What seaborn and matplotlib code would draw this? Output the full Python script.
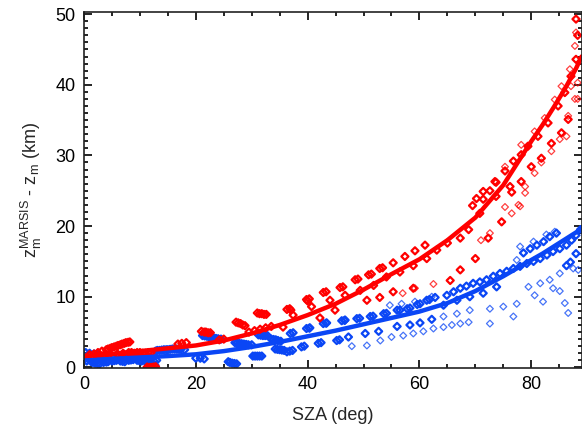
import numpy as np
import pandas as pd
import matplotlib
matplotlib.use("Agg")
import matplotlib.pyplot as plt
import seaborn as sns
from matplotlib.ticker import MultipleLocator

# %% data
red_sza = [1.0, 1.8, 2.5, 3.2, 4.0, 4.7, 5.4, 6.1, 6.8, 7.5, 8.2,
           0.5, 1.5, 2.5, 3.5, 4.5, 6.0, 7.0, 8.0, 9.0, 10.0, 11.0, 12.0,
           11.3, 12.0, 12.8, 16.8, 17.5, 18.3, 21.0, 21.8, 22.6, 24.2, 25.0,
           27.2, 28.0, 28.8, 31.0, 31.8, 32.6, 29.5, 30.5, 31.5, 32.5, 33.5,
           36.3, 39.8, 42.8, 45.8, 48.5, 50.9, 52.9, 55.3, 57.4, 59.2, 61.0,
           35.6, 37.4, 40.7, 44.0, 46.7, 49.4, 51.8, 54.1, 56.5, 58.9, 61.3, 63.1,
           42.2, 44.9, 50.6, 52.9, 55.3, 58.9,
           65.0, 67.3, 68.8, 69.5, 70.8, 71.4, 72.6, 73.7, 73.7, 76.2,
           65.5, 67.3, 70.0, 72.3, 74.7,
           70.2, 71.4, 73.5, 75.3, 76.8, 78.2, 79.4, 81.2, 83.0, 84.8, 86.0, 87.1, 88.0, 88.0, 88.3,
           76.5, 78.2, 80.0, 81.8, 83.6, 85.4, 86.6]
red_dz = [1.8, 1.9, 2.1, 2.3, 2.5, 2.7, 2.9, 3.1, 3.3, 3.5, 3.6,
          1.4, 1.5, 1.6, 1.7, 1.8, 1.9, 2.0, 2.1, 2.0, 2.1, 2.0, 2.1,
          0.05, 0.0, 0.1, 3.3, 3.4, 3.5, 5.1, 5.0, 4.9, 3.9, 4.0,
          6.4, 6.2, 5.9, 7.7, 7.6, 7.5, 5.0, 5.2, 5.4, 5.6, 5.8,
          8.2, 9.6, 10.6, 11.3, 12.4, 13.1, 14.0, 14.8, 15.7, 16.5, 17.3,
          5.7, 7.4, 8.6, 9.5, 10.2, 10.9, 11.6, 12.8, 13.5, 14.4, 15.4, 16.6,
          7.0, 8.1, 9.5, 9.9, 10.7, 11.2,
          17.6, 18.3, 19.5, 22.9, 21.8, 23.8, 25.0, 24.2, 26.2, 25.6,
          12.3, 13.8, 15.4, 18.3, 20.6,
          23.9, 24.9, 26.3, 27.8, 29.2, 30.1, 31.3, 32.7, 34.6, 37.0, 38.9, 41.2, 43.6, 49.3, 47.0,
          24.8, 26.3, 28.4, 29.6, 31.7, 33.2, 35.1]

# extra points inside the dense low-SZA clusters
red_blob_sza = [21.5, 22.2, 27.6, 28.4, 31.4, 32.2, 36.8, 37.0, 40.3, 40.0, 43.3, 46.3,
                49.0, 51.4, 53.4, 12.4, 11.7, 4.3, 5.0, 5.8, 6.5, 7.2, 7.9, 8.5, 9.5,
                10.5, 11.5]
red_blob_dz = [5.0, 4.9, 6.3, 6.0, 7.6, 7.5, 8.3, 8.1, 9.7, 9.4, 10.7, 11.4,
               12.5, 13.2, 14.1, 0.05, 0.0, 2.6, 2.8, 3.0, 3.2, 3.4, 3.55, 2.1, 2.1,
               2.0, 2.1]

red_faint_sza = [57.0, 59.2, 62.5, 71.0, 72.6, 76.5, 78.0, 78.9,
                 75.3, 78.2, 80.6, 82.4, 84.2, 85.4, 86.9, 87.8, 88.0,
                 75.3, 77.7, 78.9, 80.6, 81.8, 83.6, 85.1, 86.3, 86.6, 87.8, 88.3, 88.3, 87.1]
red_faint_dz = [10.5, 11.2, 11.8, 18.0, 19.0, 21.8, 22.8, 24.7,
                28.4, 31.5, 33.4, 35.3, 37.9, 39.8, 42.2, 45.5, 47.4,
                22.7, 23.0, 25.6, 27.5, 29.0, 30.6, 32.3, 32.7, 35.6, 38.0, 40.3, 38.0, 39.8]

blue_sza = [0.3, 1.0, 1.8, 2.5,
            0.5, 1.3, 2.0, 2.8, 3.5, 4.3, 5.0, 5.8, 6.5, 7.3, 8.0, 8.8, 9.5, 10.3, 11.0,
            11.8, 12.5, 13.0, 3.0, 4.5, 6.0, 7.5, 9.0, 10.5, 12.0, 12.7, 11.8,
            12.8, 13.5, 14.3, 15.0, 15.8, 16.6, 17.4, 18.0,
            20.0, 20.8, 21.5, 21.2, 22.0, 22.8, 23.6, 24.5, 25.8, 26.5, 27.3,
            27.0, 27.8, 28.6, 29.4, 30.0, 30.2, 31.0, 31.8, 31.2, 32.0, 32.8,
            33.5, 34.3, 35.2, 34.2, 35.0, 35.8,
            36.3, 38.9, 41.9, 45.2, 47.3, 50.3, 52.7,
            36.9, 39.8, 42.8, 46.1, 48.8, 51.2, 53.6, 56.0, 57.8, 59.6, 61.3, 62.8,
            40.4, 43.4, 46.7, 56.0, 58.3, 60.1, 62.2,
            64.9, 67.3, 69.6, 72.0, 74.4, 76.8, 79.2, 81.6, 83.9, 86.3, 88.0,
            66.1, 68.4, 70.8, 73.2, 75.6, 78.0, 80.4, 82.8, 85.1, 87.2, 88.8,
            64.3, 66.7, 69.0, 71.4, 73.8,
            78.6, 79.8, 81.0, 82.2, 83.3, 84.5, 86.3, 87.0, 88.0]
blue_dz = [2.1, 2.0, 1.9, 1.8,
           0.9, 0.8, 0.6, 0.5, 0.7, 0.8, 0.9, 1.0, 0.9, 0.8, 1.0, 1.1, 1.0, 0.9, 0.8,
           0.7, 0.9, 1.0, 1.2, 1.3, 1.4, 1.3, 1.4, 1.3, 1.3, 0.3, 0.2,
           2.3, 2.4, 2.5, 2.5, 2.6, 2.6, 2.6, 2.5,
           1.3, 1.3, 1.2, 4.5, 4.4, 4.2, 4.1, 4.0, 0.8, 0.6, 0.5,
           3.5, 3.4, 3.3, 3.2, 3.2, 1.6, 1.6, 1.6, 4.6, 4.5, 4.5,
           4.0, 3.9, 3.7, 2.6, 2.5, 2.4,
           2.2, 2.9, 3.4, 3.8, 4.3, 4.8, 5.1,
           4.8, 5.5, 6.2, 6.6, 6.9, 7.2, 7.6, 8.1, 8.3, 8.9, 9.5, 9.9,
           5.6, 6.3, 6.7, 5.8, 6.0, 6.3, 6.8,
           10.2, 11.2, 11.9, 12.4, 13.3, 14.0, 14.7, 15.4, 16.4, 17.3, 18.7,
           10.7, 11.5, 12.1, 12.9, 13.6, 14.3, 15.0, 15.9, 16.8, 18.0, 19.5,
           8.8, 9.5, 10.0, 10.5, 11.4,
           16.2, 16.8, 17.3, 17.8, 18.5, 19.0, 14.4, 14.9, 16.1]

blue_blob_sza = [1.6, 2.4, 4.0, 5.4, 6.9, 8.4, 9.9, 11.4, 3.7, 5.2, 6.8, 8.2, 9.8, 11.3,
                 13.1, 13.9, 14.7, 15.4, 16.2, 17.0, 21.6, 22.4, 23.2, 24.0, 26.1, 26.9,
                 27.4, 28.2, 29.0, 30.6, 31.4, 31.6, 32.4, 33.9, 34.7, 34.6, 35.4,
                 36.8, 37.3, 39.4, 42.4, 45.7, 37.4, 40.3, 43.3, 46.6, 49.3, 51.7,
                 54.1, 56.5, 58.3, 60.1, 61.8]
blue_blob_dz = [0.7, 0.55, 0.75, 0.95, 0.85, 1.05, 0.95, 0.75, 1.25, 1.35, 1.35, 1.35, 1.35, 1.3,
                2.4, 2.45, 2.5, 2.55, 2.6, 2.6, 4.45, 4.3, 4.15, 4.05, 0.7, 0.55,
                3.45, 3.35, 3.25, 1.6, 1.6, 4.55, 4.5, 3.95, 3.8, 2.55, 2.45,
                2.3, 2.4, 3.0, 3.5, 3.9, 4.9, 5.55, 6.25, 6.65, 6.95, 7.25,
                7.65, 8.1, 8.4, 9.0, 9.6]

blue_faint_sza = [47.9, 50.6, 53.0, 55.0, 57.1, 58.9, 60.7, 62.5,
                  54.7, 56.8, 59.2, 62.2,
                  77.4, 78.0, 80.4, 82.7, 84.2,
                  64.3, 66.7, 69.0, 72.6, 75.0, 77.4, 79.5, 81.6, 83.3, 85.1, 87.5,
                  64.3, 65.8, 67.3, 68.8, 72.6, 76.8, 80.6, 82.1, 83.9, 85.1, 86.0, 86.6, 88.4]
blue_faint_dz = [3.0, 3.1, 3.8, 4.3, 4.5, 4.8, 5.1, 5.5,
                 8.8, 9.0, 9.3, 10.0,
                 15.2, 17.1, 17.8, 18.8, 19.2,
                 7.2, 7.6, 8.1, 8.3, 8.6, 9.0, 11.4, 11.9, 12.4, 13.3, 14.0,
                 5.7, 6.0, 6.2, 6.4, 6.2, 7.2, 10.2, 9.3, 11.2, 10.8, 9.1, 7.7, 13.8]

fit_sza = [0, 5, 10, 15, 20, 25, 30, 35, 40, 45, 50, 55, 60, 65, 70, 75, 80, 82, 84, 86, 88, 89]
red_fit = [1.6, 1.9, 2.3, 2.7, 3.1, 3.8, 4.8, 6.0, 7.4, 9.0, 11.0, 13.2, 15.3, 18.0, 21.2,
           25.8, 32.0, 34.3, 36.8, 39.4, 42.3, 44.0]
blue_fit = [1.0, 1.2, 1.4, 1.6, 1.85, 2.3, 2.9, 3.6, 4.4, 5.2, 6.1, 7.0, 7.9, 9.1, 10.8,
            12.9, 15.2, 16.1, 17.1, 18.1, 19.1, 19.6]

red = "#ff0000"
blue = "#0a46f5"

# %% plot
sns.set_theme(style="ticks")
plt.rcParams["font.family"] = ["Liberation Sans", "DejaVu Sans"]
plt.rcParams["mathtext.default"] = "regular"

fig = plt.figure(figsize=(5.82, 4.29), dpi=100)
ax = fig.add_axes([0.1443, 0.142, 0.855, 0.83])

sns.scatterplot(x=blue_faint_sza, y=blue_faint_dz, marker="D", s=12, fc="none",
                ec=blue, linewidth=0.9, alpha=0.75, ax=ax)
sns.scatterplot(x=blue_sza + blue_blob_sza, y=blue_dz + blue_blob_dz, marker="D", s=13,
                fc="none", ec=blue, linewidth=1.6, ax=ax)
sns.scatterplot(x=red_faint_sza, y=red_faint_dz, marker="D", s=12, fc="none",
                ec=red, linewidth=0.9, alpha=0.75, ax=ax)
sns.scatterplot(x=red_sza + red_blob_sza, y=red_dz + red_blob_dz, marker="D", s=13,
                fc="none", ec=red, linewidth=1.6, ax=ax)

sns.lineplot(x=fit_sza, y=blue_fit, color=blue, linewidth=3.2, ax=ax)
sns.lineplot(x=fit_sza, y=red_fit, color=red, linewidth=3.2, ax=ax)

ax.set_xlim(0, 89)
ax.set_ylim(-0.1, 50.3)
ax.xaxis.set_major_locator(MultipleLocator(20))
ax.xaxis.set_minor_locator(MultipleLocator(5))
ax.yaxis.set_major_locator(MultipleLocator(10))
ax.yaxis.set_minor_locator(MultipleLocator(1))
ax.tick_params(which="both", direction="in", top=True, right=True,
               labelsize=13, colors="black", width=1.2)
ax.tick_params(which="major", length=6, pad=6)
ax.tick_params(which="minor", length=3)
for sp in ax.spines.values():
    sp.set_linewidth(1.2)
    sp.set_color("#222222")

ax.set_xlabel("SZA (deg)", fontsize=13, labelpad=10)
ax.set_ylabel("$z_m^{MARSIS}$ - $z_m$ (km)", fontsize=13, labelpad=8)

fig.savefig("out.png", dpi=100)
